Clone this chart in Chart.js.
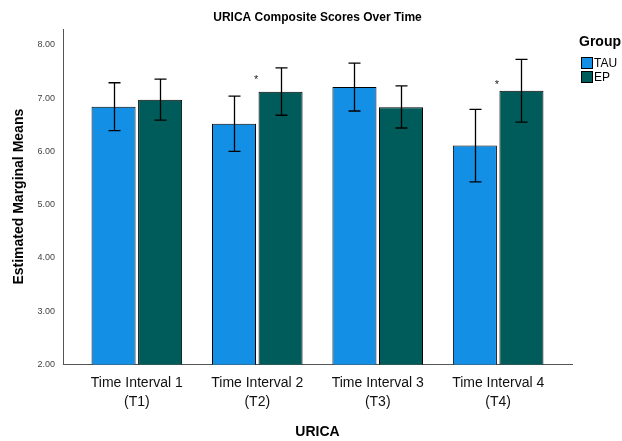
<!DOCTYPE html>
<html>
<head>
<meta charset="utf-8">
<script src="https://cdn.jsdelivr.net/npm/chart.js@4/dist/chart.umd.min.js"></script>
<style>
  html, body { margin: 0; padding: 0; background: #ffffff; }
  #wrap { width: 622px; height: 441px; position: relative; }
</style>
</head>
<body>
<div id="wrap"><canvas id="chart"></canvas></div>
<script>
// Time points on the x axis (two-line labels)
const categories = [
  ['Time Interval 1', '(T1)'],
  ['Time Interval 2', '(T2)'],
  ['Time Interval 3', '(T3)'],
  ['Time Interval 4', '(T4)']
];
const groupNames = ['TAU', 'EP'];

// Estimated marginal means per group
const tauMeans = [6.84, 6.52, 7.21, 6.11];
const epMeans  = [6.97, 7.12, 6.83, 7.14];

// Error bar limits per group
const tauLower = [6.39, 6.00, 6.76, 5.43];
const tauUpper = [7.29, 7.04, 7.66, 6.79];
const epLower  = [6.59, 6.68, 6.44, 6.55];
const epUpper  = [7.36, 7.57, 7.23, 7.73];

// Significance markers between the groups and their height on the value axis
const sigMarks  = ['', '*', '', '*'];
const sigMarkY  = [null, 7.40, null, 7.31];

// Value axis ticks and extent
const yTicks = [2, 3, 4, 5, 6, 7, 8];
const yMin = 2;
const yMax = 8.3;

const FONT = "'Liberation Sans', Arial, Helvetica, sans-serif";
const TAU_COLOR = '#138fe6';
const EP_COLOR = '#005c5a';

const toPoints = arr => arr.map((v, i) => ({ x: i, y: v }));

const errorBars = [
  { lower: tauLower, upper: tauUpper },
  { lower: epLower, upper: epUpper }
];

// Whiskers with caps drawn over each bar
const errorBarPlugin = {
  id: 'errorBars',
  afterDatasetsDraw(chart) {
    const { ctx, scales: { y } } = chart;
    ctx.save();
    ctx.strokeStyle = '#000000';
    ctx.lineWidth = 1.3;
    chart.data.datasets.forEach((ds, di) => {
      const meta = chart.getDatasetMeta(di);
      const eb = errorBars[di];
      meta.data.forEach((bar, i) => {
        const x = Math.round(bar.x) + 0.5;
        const yl = y.getPixelForValue(eb.lower[i]);
        const yu = y.getPixelForValue(eb.upper[i]);
        const cap = 6;
        ctx.beginPath();
        ctx.moveTo(x, yu); ctx.lineTo(x, yl);
        ctx.moveTo(x - cap, yu); ctx.lineTo(x + cap, yu);
        ctx.moveTo(x - cap, yl); ctx.lineTo(x + cap, yl);
        ctx.stroke();
      });
    });
    ctx.restore();
  }
};

// Asterisks next to the TAU bar where the groups differ
const sigPlugin = {
  id: 'sigMarks',
  afterDatasetsDraw(chart) {
    const { ctx, scales: { y } } = chart;
    const meta = chart.getDatasetMeta(0);
    ctx.save();
    ctx.fillStyle = '#222222';
    ctx.font = '11px ' + FONT;
    ctx.textAlign = 'center';
    ctx.textBaseline = 'middle';
    sigMarks.forEach((m, i) => {
      if (!m) return;
      const bar = meta.data[i];
      ctx.fillText(m, bar.x + bar.width / 2, y.getPixelForValue(sigMarkY[i]) + 3);
    });
    ctx.restore();
  }
};

// Chart title centred over the plot area, and the group legend on the right
const titleLegendPlugin = {
  id: 'titleLegend',
  afterDraw(chart) {
    const { ctx, chartArea } = chart;
    ctx.save();
    ctx.fillStyle = '#000000';
    ctx.font = 'bold 12px ' + FONT;
    ctx.textAlign = 'center';
    ctx.textBaseline = 'middle';
    ctx.fillText('URICA Composite Scores Over Time', (chartArea.left + chartArea.right) / 2, 18);

    ctx.textAlign = 'left';
    ctx.font = 'bold 14px ' + FONT;
    ctx.fillText('Group', 579, 42);
    ctx.font = '12px ' + FONT;
    chart.data.datasets.forEach((ds, i) => {
      const top = 57 + i * 14;
      ctx.fillStyle = ds.backgroundColor;
      ctx.fillRect(581.5, top + 0.5, 11, 11);
      ctx.strokeStyle = '#000000';
      ctx.lineWidth = 1;
      ctx.strokeRect(581.5, top + 0.5, 11, 11);
      ctx.fillStyle = '#000000';
      ctx.fillText(ds.label, 594, top + 6.5);
    });
    ctx.restore();
  }
};

new Chart(document.getElementById('chart'), {
  type: 'bar',
  data: {
    datasets: [
      {
        label: groupNames[0],
        data: toPoints(tauMeans),
        backgroundColor: TAU_COLOR,
        borderColor: '#000000',
        borderWidth: 1
      },
      {
        label: groupNames[1],
        data: toPoints(epMeans),
        backgroundColor: EP_COLOR,
        borderColor: '#000000',
        borderWidth: 1
      }
    ]
  },
  options: {
    responsive: true,
    maintainAspectRatio: false,
    animation: false,
    categoryPercentage: 0.773,
    barPercentage: 0.946,
    layout: { padding: { top: 29, right: 50, left: 0, bottom: 0 } },
    plugins: {
      legend: { display: false },
      title: { display: false },
      tooltip: { enabled: false }
    },
    scales: {
      x: {
        type: 'linear',
        offset: false,
        min: -0.613,
        max: 3.613,
        afterBuildTicks: scale => { scale.ticks = categories.map((c, i) => ({ value: i })); },
        grid: { display: false, drawTicks: false, offset: false },
        border: { display: true, color: '#555555', width: 1 },
        ticks: {
          padding: 9,
          color: '#111111',
          font: { family: FONT, size: 14, lineHeight: 1.35 },
          maxRotation: 0,
          autoSkip: false,
          callback: value => categories[value]
        },
        title: {
          display: true,
          text: 'URICA',
          color: '#000000',
          font: { family: FONT, size: 14, weight: 'bold' },
          padding: { top: 4, bottom: 0 }
        }
      },
      y: {
        min: yMin,
        max: yMax,
        afterBuildTicks: scale => { scale.ticks = yTicks.map(v => ({ value: v })); },
        afterFit: scale => { scale.width = 63; },
        grid: { display: false, drawTicks: false },
        border: { display: true, color: '#555555', width: 1 },
        ticks: {
          padding: 8,
          color: '#444444',
          font: { family: FONT, size: 9 },
          callback: v => v.toFixed(2)
        },
        title: {
          display: true,
          text: 'Estimated Marginal Means',
          color: '#000000',
          font: { family: FONT, size: 14, weight: 'bold' },
          padding: { top: 11, bottom: 0 }
        }
      }
    }
  },
  plugins: [errorBarPlugin, sigPlugin, titleLegendPlugin]
});
</script>
</body>
</html>
